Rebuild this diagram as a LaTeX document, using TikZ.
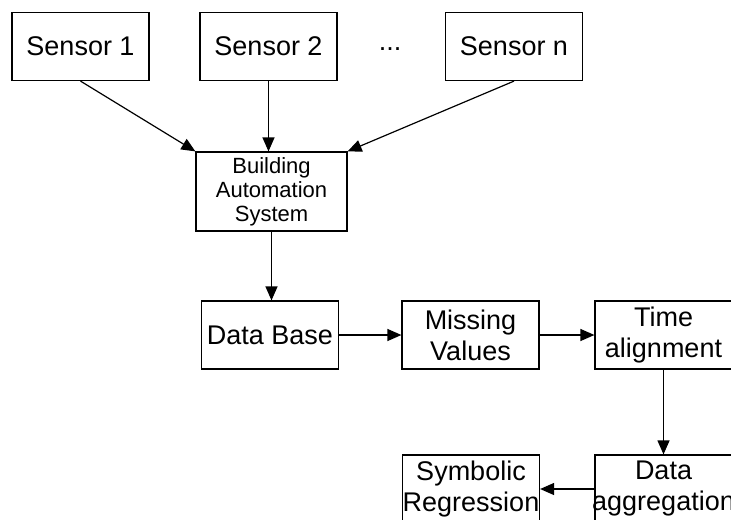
\documentclass[tikz,border=0pt]{standalone}
\usepackage{fontspec}
\setmainfont{Liberation Sans}
\usetikzlibrary{arrows.meta}

\begin{document}
\begin{tikzpicture}[x=0.5pt,y=-0.5pt,
  box/.style={draw,line width=0.6pt,minimum width=68.5pt,minimum height=34pt,
    inner xsep=-3pt,inner ysep=0pt,align=center,font=\fontsize{13.5}{15.5}\selectfont},
  basbox/.style={box,minimum width=75.5pt,minimum height=39.5pt,font=\fontsize{11}{12}\selectfont},
  >={Triangle[length=7pt,width=6pt]}]
  \useasboundingbox (0,0) rectangle (731,519);

  \node[box] (s1) at (80.5,46.5) {Sensor 1};
  \node[box] (s2) at (268.5,46.5) {Sensor 2};
  \node[font=\fontsize{13.5}{15.5}\selectfont] (dots) at (390,49) {...};
  \node[box] (sn) at (514,46.5) {Sensor n};
  \node[basbox] (bas) at (271.5,191.5) {Building\\Automation\\System};
  \node[box] (db) at (270,335) {Data Base};
  \node[box] (mv) at (470.5,335) {Missing\\Values};
  \node[box] (ta) at (663.5,335) {Time\\alignment};
  \node[box] (agg) at (663.5,489) {Data\\aggregation};
  \node[box] (sr) at (471,489) {Symbolic\\Regression};

  \draw[->,line width=0.6pt] (s1.south) -- (bas.north west);
  \draw[->,line width=0.6pt] (s2.south) -- (s2.south |- bas.north);
  \draw[->,line width=0.6pt] (sn.south) -- (bas.north east);
  \draw[->,line width=0.6pt] (bas.south) -- (bas.south |- db.north);
  \draw[->,line width=0.6pt] (db) -- (mv);
  \draw[->,line width=0.6pt] (mv) -- (ta);
  \draw[->,line width=0.6pt] (ta) -- (agg);
  \draw[->,line width=0.6pt] (agg) -- (sr);
\end{tikzpicture}
\end{document}
